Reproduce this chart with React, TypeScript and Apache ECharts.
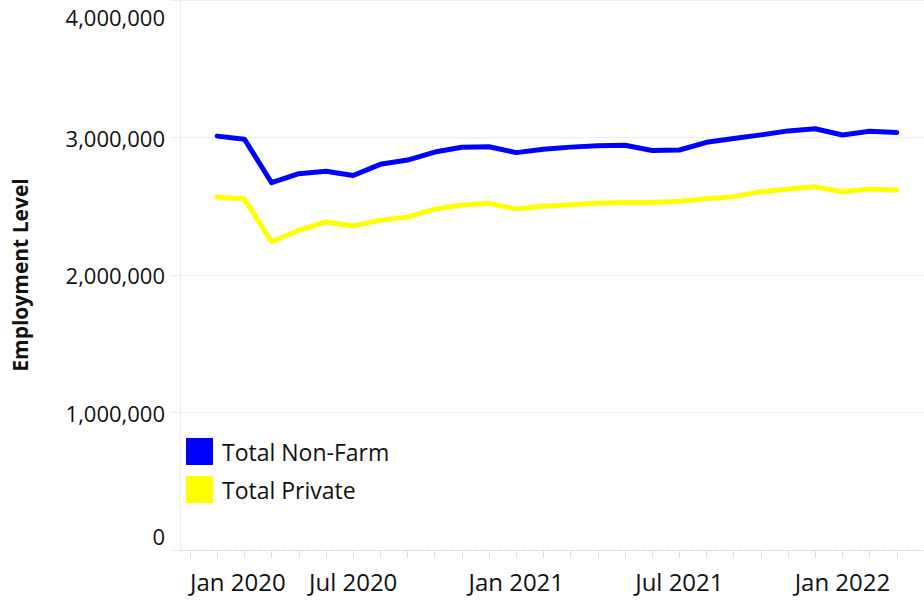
import React, { useEffect, useRef } from "react";
import * as echarts from "echarts";

// Axis months (one tick per month)
const axisMonths = [
  "Jan 2020", "Feb 2020", "Mar 2020", "Apr 2020", "May 2020", "Jun 2020",
  "Jul 2020", "Aug 2020", "Sep 2020", "Oct 2020", "Nov 2020", "Dec 2020",
  "Jan 2021", "Feb 2021", "Mar 2021", "Apr 2021", "May 2021", "Jun 2021",
  "Jul 2021", "Aug 2021", "Sep 2021", "Oct 2021", "Nov 2021", "Dec 2021",
  "Jan 2022", "Feb 2022", "Mar 2022",
];

const tickLabels = ["Jan 2020", "Jul 2020", "Jan 2021", "Jul 2021", "Jan 2022"];

// Months that have data
const months = [
  "Feb 2020", "Mar 2020", "Apr 2020", "May 2020", "Jun 2020", "Jul 2020",
  "Aug 2020", "Sep 2020", "Oct 2020", "Nov 2020", "Dec 2020", "Jan 2021",
  "Feb 2021", "Mar 2021", "Apr 2021", "May 2021", "Jun 2021", "Jul 2021",
  "Aug 2021", "Sep 2021", "Oct 2021", "Nov 2021", "Dec 2021", "Jan 2022",
  "Feb 2022", "Mar 2022",
];

const totalNonFarm = [
  3010000, 2988000, 2671000, 2737000, 2755000, 2724000,
  2805000, 2836000, 2894000, 2929000, 2933000, 2890000,
  2915000, 2930000, 2940000, 2944000, 2906000, 2909000,
  2965000, 2992000, 3019000, 3048000, 3064000, 3018000,
  3045000, 3037000,
];

const totalPrivate = [
  2567000, 2553000, 2242000, 2325000, 2386000, 2357000,
  2398000, 2421000, 2479000, 2509000, 2521000, 2480000,
  2500000, 2511000, 2522000, 2527000, 2528000, 2537000,
  2554000, 2570000, 2605000, 2625000, 2641000, 2605000,
  2626000, 2618000,
];

const yTicks = [0, 1000000, 2000000, 3000000, 4000000];

const FONT = "'Open Sans', 'Noto Sans', sans-serif";

export default function App() {
  const ref = useRef<HTMLDivElement>(null);

  useEffect(() => {
    if (!ref.current) return;
    const chart = echarts.init(ref.current, null, { renderer: "svg" });

    const toPoints = (vals: number[]) =>
      vals.map((v, i) => [axisMonths.indexOf(months[i]), v]);

    const tickIdx = axisMonths.map((_, i) => i);
    const labelIdx = tickLabels.map((l) => axisMonths.indexOf(l));
    const yMin = yTicks[0];
    const yMax = yTicks[yTicks.length - 1];

    chart.setOption({
      animation: false,
      textStyle: { fontFamily: FONT },
      grid: { left: 180, right: 0, top: 0, bottom: 50, containLabel: false },
      legend: {
        orient: "vertical",
        left: 186,
        top: 438,
        padding: 0,
        itemWidth: 27,
        itemHeight: 27,
        itemGap: 11,
        icon: "rect",
        textStyle: { fontFamily: FONT, fontSize: 23, color: "#111", padding: [0, 0, 0, 4] },
        data: [
          { name: "Total Non-Farm", icon: "rect", itemStyle: { color: "#0000ff" } },
          { name: "Total Private", icon: "rect", itemStyle: { color: "#ffff00" } },
        ],
      },
      xAxis: {
        type: "value",
        min: -0.37,
        max: 27,
        splitLine: { show: false },
        axisLine: { show: true, onZero: false, lineStyle: { color: "#d9d9d9", type: "dashed", width: 1 } },
        axisTick: {
          show: true,
          customValues: tickIdx,
          length: 8,
          lineStyle: { color: "#e0e0e0" },
        },
        axisLabel: {
          customValues: labelIdx,
          margin: 19,
          fontSize: 24,
          color: "#111",
          fontFamily: FONT,
          alignMinLabel: "left",
          formatter: (v: number) => axisMonths[Math.round(v)] ?? "",
        },
      },
      yAxis: {
        type: "value",
        min: yMin,
        max: yMax,
        interval: 1000000,
        name: "Employment Level",
        nameLocation: "middle",
        nameRotate: 90,
        nameGap: 150,
        nameTextStyle: { fontFamily: FONT, fontSize: 21, fontWeight: "bold", color: "#111" },
        axisLine: { show: true, onZero: false, lineStyle: { color: "#eeeeee" } },
        axisTick: { show: true, length: 9, lineStyle: { color: "#eeeeee" } },
        splitLine: { show: true, lineStyle: { color: "#eeeeee", width: 1 } },
        axisLabel: {
          customValues: yTicks,
          margin: 15,
          fontSize: 22,
          color: "#111",
          fontFamily: FONT,
          formatter: (v: number) => {
            const s = v.toLocaleString("en-US");
            if (v === yMax) return `{top|${s}}`;
            if (v === yMin) return `{bot|${s}}`;
            return s;
          },
          rich: {
            top: { fontSize: 22, color: "#111", fontFamily: FONT, padding: [34, 0, 0, 0] },
            bot: { fontSize: 22, color: "#111", fontFamily: FONT, padding: [0, 0, 28, 0] },
          },
        },
      },
      series: [
        {
          name: "Total Non-Farm",
          type: "line",
          data: toPoints(totalNonFarm),
          showSymbol: false,
          symbol: "none",
          lineStyle: { color: "#0000ff", width: 5, join: "round", cap: "round" },
          itemStyle: { color: "#0000ff" },
        },
        {
          name: "Total Private",
          type: "line",
          data: toPoints(totalPrivate),
          showSymbol: false,
          symbol: "none",
          lineStyle: { color: "#ffff00", width: 5, join: "round", cap: "round" },
          itemStyle: { color: "#ffff00" },
        },
      ],
    });

    return () => chart.dispose();
  }, []);

  return (
    <div
      ref={ref}
      style={{ position: "fixed", left: 0, top: 0, width: 924, height: 600, background: "#fff" }}
    />
  );
}
